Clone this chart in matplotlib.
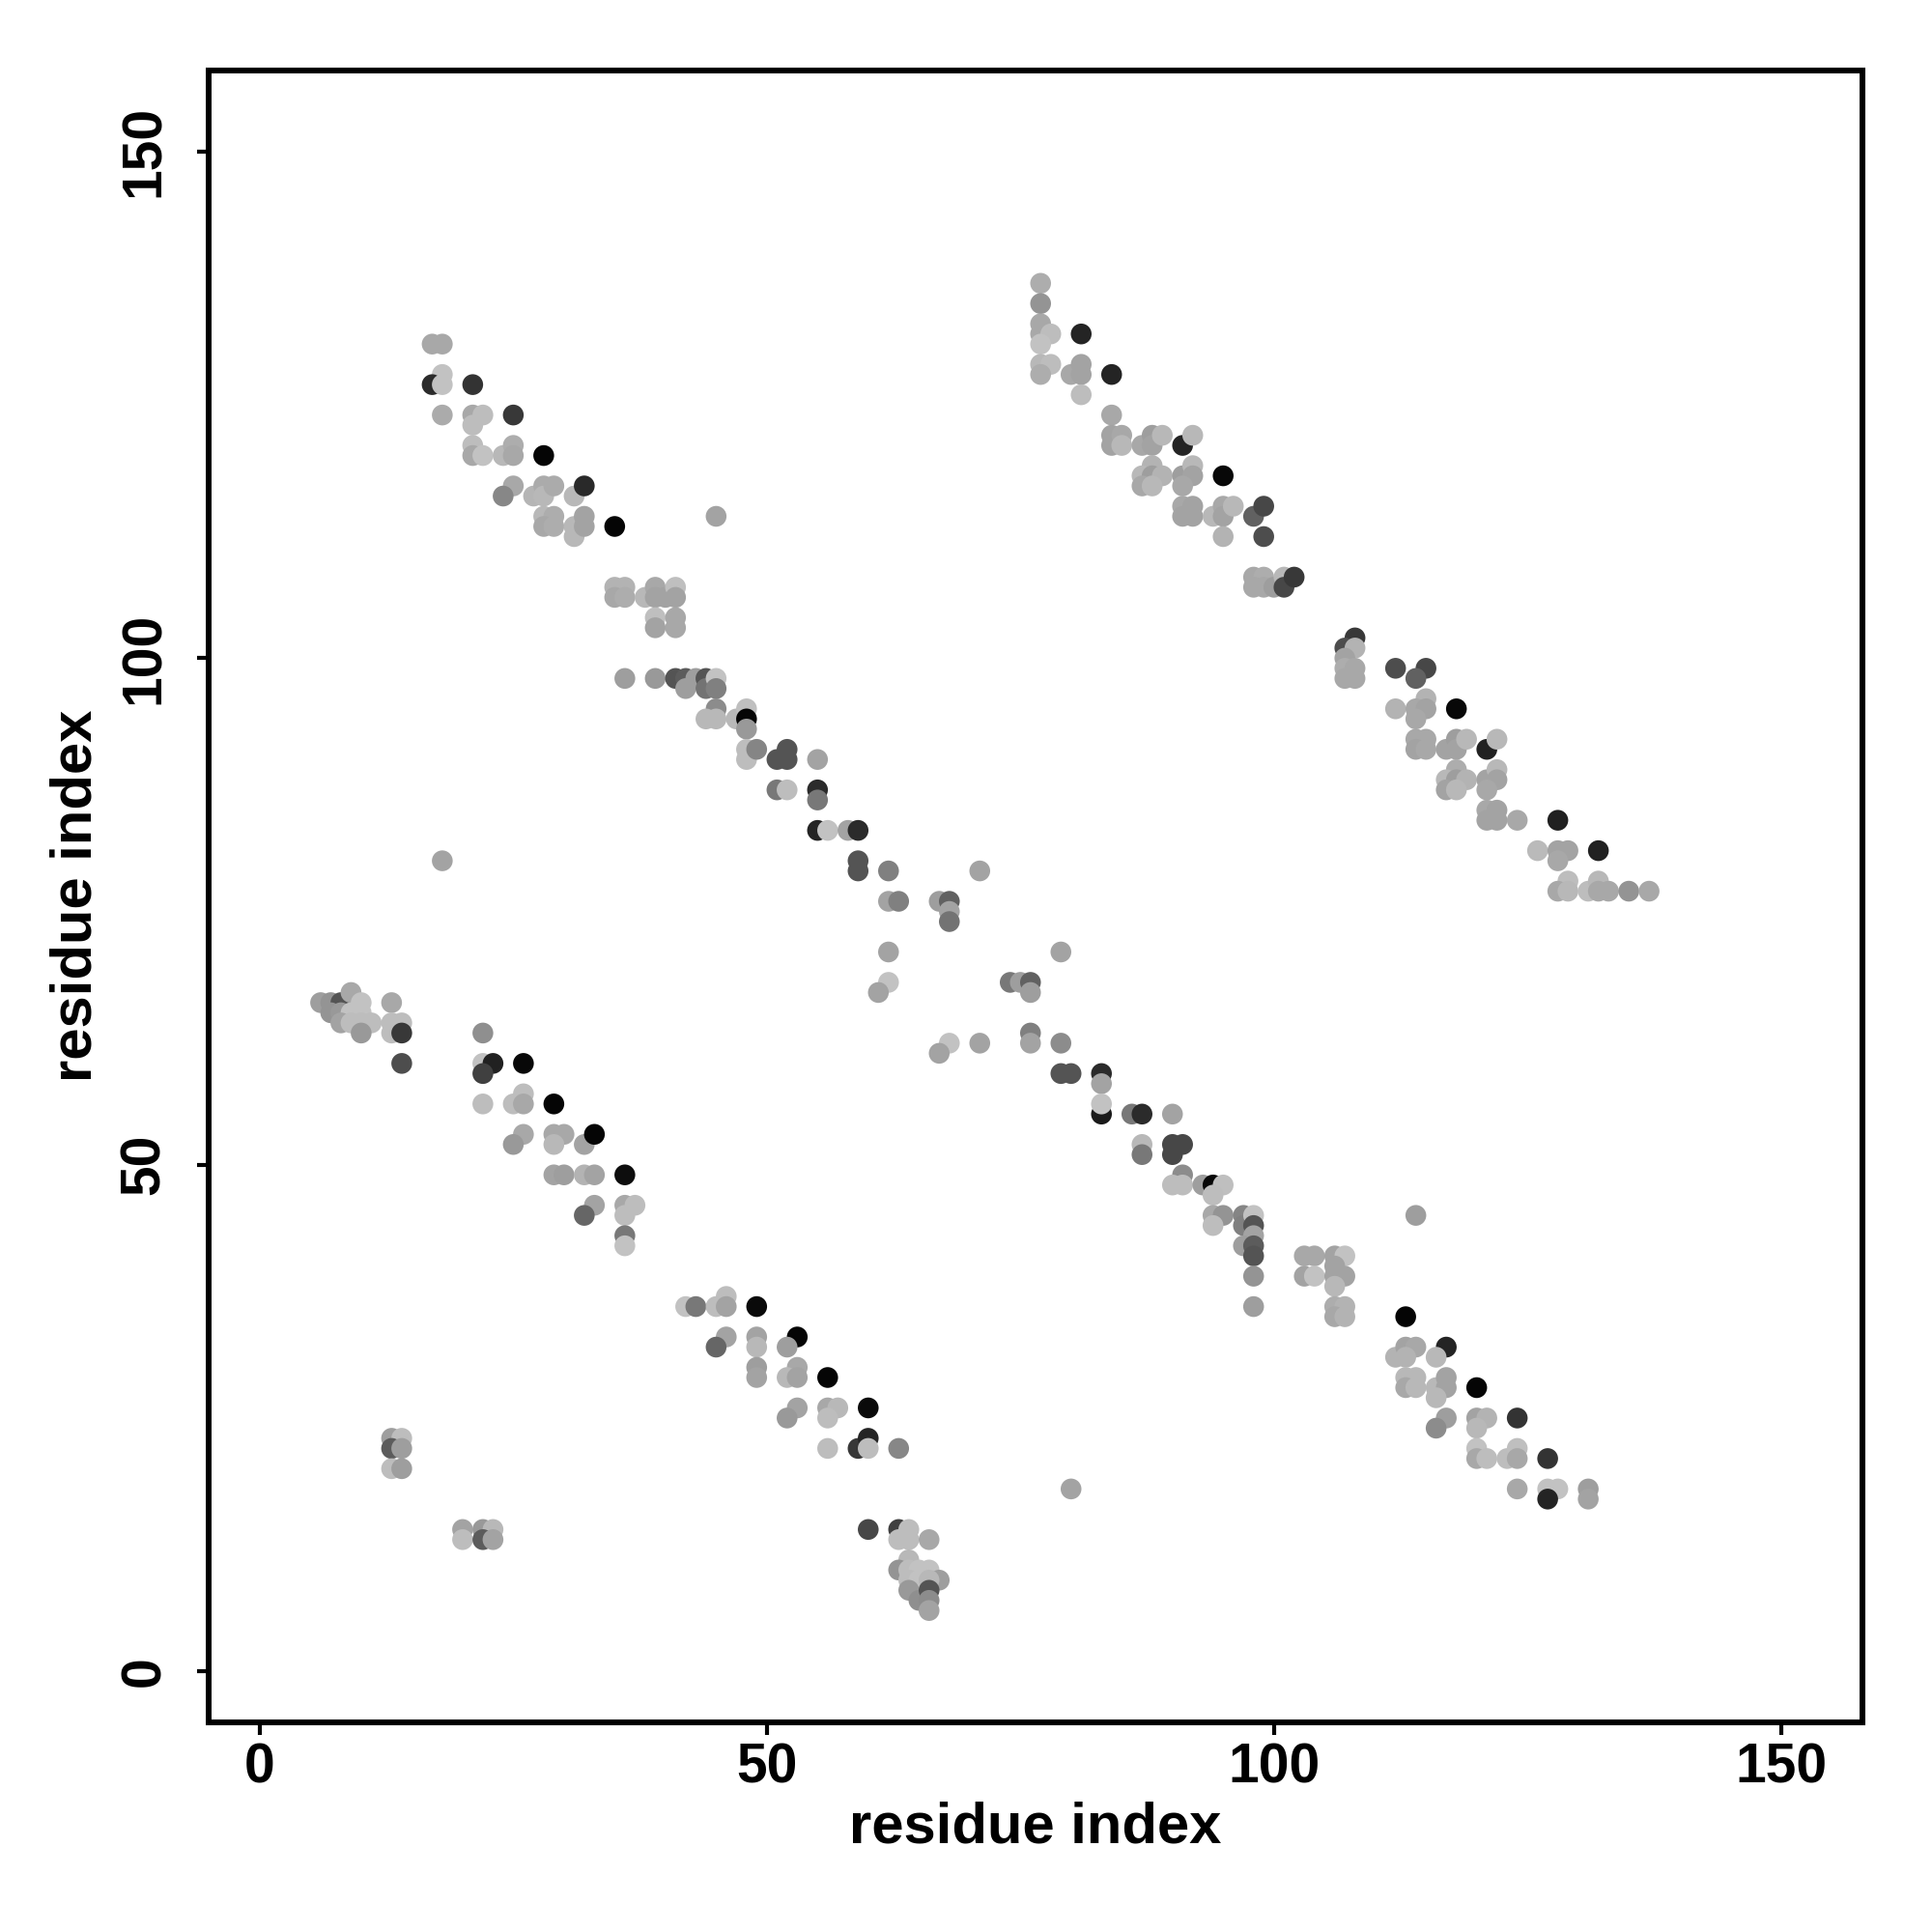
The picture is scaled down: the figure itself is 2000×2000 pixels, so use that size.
import matplotlib
matplotlib.use("Agg")
import matplotlib.pyplot as plt

# contact map points: residue i (x), residue j (y), grey shade (0=black, 1=white)
res_i = [
    17, 18, 18, 17, 18, 21, 18, 21, 22, 21, 25, 21, 21, 22, 24, 25, 25, 28, 25, 24,
    27, 28, 28, 29, 31, 32, 28, 29, 28, 29, 31, 31, 32, 32, 35, 45, 35, 36, 35, 36,
    38, 39, 39, 40, 41, 41, 39, 39, 41, 41, 36, 39, 41, 42, 42, 43, 44, 44, 45, 45,
    45, 44, 45, 47, 48, 48,
    77, 77, 77, 77, 78, 77, 81, 77, 78, 77, 80, 81, 81, 81, 84, 84, 84, 84, 85, 85,
    87, 88, 88, 89, 91, 92, 88, 87, 88, 89, 87, 88, 91, 92, 92, 91, 91, 92, 91, 92,
    95, 94, 95, 95, 96, 95, 98, 99, 99, 98, 99, 98, 99, 100, 101, 101, 102, 108, 107, 108,
    107, 107, 108, 107, 108, 112, 115, 114, 115, 112, 114, 115, 114, 118,
    114, 115, 114, 115, 117, 118, 118, 119, 121, 122, 118, 117, 118, 119, 117, 118, 121, 122, 122, 121,
    121, 122, 121, 122, 124, 128, 126, 128, 129, 128, 132, 129, 128, 129, 131, 132, 132, 133, 135, 137,
    48, 48, 48, 49, 18, 6, 7, 8, 9, 7, 8, 10, 9, 10, 8, 9, 10, 11, 10, 13,
    13, 14, 13, 14, 14, 22, 22, 23, 22, 26, 22, 25, 26, 26, 29, 26, 25, 29, 30, 29,
    32, 33, 29, 30, 32, 33, 36,
    33, 32, 36, 37, 36, 36, 36, 42, 43, 45, 46, 46, 49, 46, 45, 13, 14, 13, 14, 13,
    14, 20, 20, 22, 23, 22, 23,
    91, 90, 91, 93, 94, 49, 49, 53, 52, 49, 49, 53, 52, 53, 56, 53, 52, 56, 57, 56,
    60, 56, 59, 60, 60, 63, 80, 60, 63, 64, 63, 64, 66, 64, 63, 64, 65, 66, 67, 64,
    65, 66, 64, 65, 66, 66, 66,
    95, 94, 94, 95, 94, 97, 97, 98, 98, 98, 97, 98, 98, 98, 98, 114, 103, 104, 103, 104,
    106, 107, 106, 106, 107, 106, 106, 107, 106, 107, 113, 112, 113, 114, 113, 117, 116, 113, 114, 113,
    114, 116, 117, 117, 116, 120, 117, 116, 120, 121, 120, 124, 120, 120, 121, 123, 124, 124, 127, 124,
    127, 128, 127, 131, 131,
    51, 52, 52, 55, 51, 52, 55, 55, 55, 56, 58, 59, 59, 59, 62, 71, 62, 63, 67, 68,
    68, 68, 62, 79, 62, 61, 74, 75, 76, 76, 68, 67, 71, 76, 76, 79, 79, 80, 83, 83,
    83, 83, 86, 87, 90, 87, 87, 90, 91, 90,
]
res_j = [
    131, 131, 128, 127, 127, 127, 124, 124, 124, 123, 124, 121, 120, 120, 120, 121, 120, 120, 117, 116,
    116, 117, 116, 117, 116, 117, 114, 114, 113, 113, 113, 112, 114, 113, 113, 114, 107, 107, 106, 106,
    106, 107, 106, 106, 107, 106, 104, 103, 104, 103, 98, 98, 98, 98, 97, 98, 98, 97, 98, 97,
    95, 94, 94, 94, 95, 94,
    137, 135, 133, 132, 132, 131, 132, 129, 129, 128, 128, 129, 128, 126, 128, 124, 122, 121, 122, 121,
    121, 122, 121, 122, 121, 122, 119, 118, 118, 118, 117, 117, 118, 119, 118, 117, 115, 115, 114, 114,
    118, 114, 115, 114, 115, 112, 114, 115, 112, 108, 108, 107, 107, 107, 108, 107, 108, 102, 101, 101,
    100, 99, 99, 98, 98, 99, 99, 98, 96, 95, 95, 95, 94, 95,
    92, 92, 91, 91, 91, 92, 91, 92, 91, 92, 89, 88, 88, 88, 87, 87, 88, 89, 88, 87,
    85, 85, 84, 84, 84, 84, 81, 81, 81, 80, 81, 78, 77, 77, 77, 78, 77, 77, 77, 77,
    93, 91, 90, 91, 80, 66, 66, 66, 67, 65, 65, 66, 65, 65, 64, 64, 64, 64, 63, 66,
    64, 64, 63, 63, 60, 63, 60, 60, 59, 60, 56, 56, 57, 56, 56, 53, 52, 53, 53, 52,
    52, 53, 49, 49, 49, 49, 49,
    46, 45, 46, 46, 45, 43, 42, 36, 36, 36, 37, 36, 36, 33, 32, 23, 23, 22, 22, 20,
    20, 14, 13, 14, 14, 13, 13,
    49, 48, 48, 48, 48, 33, 32, 33, 32, 30, 29, 30, 29, 29, 29, 26, 25, 26, 26, 25,
    26, 22, 22, 23, 22, 22, 18, 14, 14, 14, 13, 13, 13, 11, 10, 10, 10, 10, 9, 9,
    9, 9, 8, 7, 8, 7, 6,
    48, 47, 45, 45, 44, 45, 44, 45, 44, 43, 42, 42, 41, 39, 36, 45, 41, 41, 39, 39,
    41, 41, 40, 39, 39, 38, 36, 36, 35, 35, 35, 31, 32, 32, 31, 32, 31, 29, 29, 28,
    28, 28, 29, 28, 27, 28, 25, 24, 25, 25, 24, 25, 22, 21, 21, 21, 22, 21, 21, 18,
    18, 18, 17, 18, 17,
    90, 91, 90, 90, 87, 87, 87, 86, 83, 83, 83, 83, 80, 79, 79, 79, 76, 76, 76, 76,
    75, 74, 71, 71, 68, 67, 68, 68, 68, 67, 62, 61, 62, 63, 62, 62, 59, 59, 59, 58,
    55, 56, 55, 55, 55, 52, 51, 52, 52, 51,
]
shade = [
    0.66, 0.66, 0.76, 0.17, 0.76, 0.20, 0.67, 0.66, 0.74, 0.74, 0.22, 0.74, 0.66, 0.76, 0.72, 0.68, 0.66, 0.02, 0.66, 0.53,
    0.71, 0.67, 0.72, 0.67, 0.72, 0.16, 0.72, 0.68, 0.66, 0.68, 0.72, 0.72, 0.64, 0.64, 0.02, 0.64, 0.70, 0.70, 0.66, 0.68,
    0.72, 0.66, 0.64, 0.64, 0.75, 0.64, 0.75, 0.64, 0.66, 0.66, 0.62, 0.60, 0.33, 0.36, 0.62, 0.62, 0.33, 0.45, 0.76, 0.50,
    0.55, 0.72, 0.72, 0.72, 0.75, 0.02,
    0.68, 0.58, 0.66, 0.66, 0.74, 0.76, 0.14, 0.72, 0.74, 0.68, 0.66, 0.64, 0.64, 0.74, 0.14, 0.66, 0.64, 0.64, 0.66, 0.72,
    0.66, 0.62, 0.64, 0.72, 0.14, 0.72, 0.70, 0.72, 0.62, 0.70, 0.66, 0.72, 0.62, 0.72, 0.64, 0.66, 0.66, 0.64, 0.64, 0.64,
    0.03, 0.72, 0.66, 0.64, 0.72, 0.70, 0.38, 0.28, 0.30, 0.66, 0.68, 0.66, 0.66, 0.62, 0.72, 0.28, 0.22, 0.22, 0.30, 0.70,
    0.64, 0.68, 0.66, 0.66, 0.66, 0.30, 0.28, 0.38, 0.70, 0.70, 0.66, 0.64, 0.66, 0.03,
    0.66, 0.66, 0.64, 0.66, 0.64, 0.62, 0.64, 0.72, 0.13, 0.72, 0.68, 0.72, 0.62, 0.70, 0.64, 0.72, 0.64, 0.72, 0.64, 0.66,
    0.66, 0.64, 0.64, 0.64, 0.66, 0.13, 0.73, 0.64, 0.64, 0.66, 0.13, 0.74, 0.66, 0.72, 0.74, 0.72, 0.66, 0.66, 0.58, 0.66,
    0.60, 0.74, 0.74, 0.52, 0.64, 0.62, 0.58, 0.33, 0.66, 0.58, 0.60, 0.76, 0.76, 0.76, 0.64, 0.74, 0.74, 0.74, 0.60, 0.66,
    0.74, 0.74, 0.74, 0.22, 0.30, 0.56, 0.76, 0.13, 0.25, 0.03, 0.74, 0.74, 0.74, 0.66, 0.02, 0.66, 0.60, 0.66, 0.66, 0.72,
    0.64, 0.02, 0.64, 0.62, 0.70, 0.64, 0.05,
    0.64, 0.40, 0.66, 0.74, 0.74, 0.47, 0.76, 0.76, 0.47, 0.74, 0.74, 0.64, 0.04, 0.64, 0.40, 0.62, 0.74, 0.36, 0.62, 0.74,
    0.62, 0.64, 0.74, 0.60, 0.72, 0.36, 0.64,
    0.55, 0.74, 0.74, 0.62, 0.03, 0.64, 0.72, 0.02, 0.62, 0.62, 0.64, 0.66, 0.72, 0.64, 0.02, 0.64, 0.60, 0.66, 0.72, 0.74,
    0.04, 0.74, 0.22, 0.14, 0.74, 0.53, 0.64, 0.28, 0.25, 0.74, 0.74, 0.74, 0.66, 0.72, 0.58, 0.74, 0.76, 0.76, 0.62, 0.74,
    0.76, 0.72, 0.60, 0.56, 0.33, 0.55, 0.64,
    0.75, 0.74, 0.66, 0.58, 0.74, 0.52, 0.50, 0.76, 0.33, 0.64, 0.62, 0.36, 0.33, 0.58, 0.62, 0.62, 0.66, 0.66, 0.64, 0.76,
    0.64, 0.76, 0.64, 0.64, 0.64, 0.72, 0.68, 0.70, 0.66, 0.70, 0.02, 0.70, 0.64, 0.66, 0.70, 0.14, 0.72, 0.72, 0.72, 0.66,
    0.72, 0.72, 0.64, 0.64, 0.72, 0.02, 0.62, 0.55, 0.64, 0.70, 0.72, 0.20, 0.76, 0.66, 0.74, 0.74, 0.75, 0.66, 0.20, 0.66,
    0.76, 0.76, 0.14, 0.62, 0.64,
    0.33, 0.33, 0.33, 0.64, 0.47, 0.74, 0.17, 0.47, 0.14, 0.76, 0.64, 0.17, 0.33, 0.33, 0.50, 0.64, 0.64, 0.50, 0.62, 0.38,
    0.64, 0.45, 0.64, 0.64, 0.76, 0.64, 0.47, 0.62, 0.38, 0.62, 0.76, 0.64, 0.64, 0.50, 0.64, 0.55, 0.33, 0.33, 0.17, 0.64,
    0.10, 0.76, 0.47, 0.17, 0.64, 0.72, 0.47, 0.28, 0.28, 0.28,
]

x_ticks = [0, 50, 100, 150]
y_ticks = [0, 50, 100, 150]
x_label = "residue index"
y_label = "residue index"

plt.rcParams['font.family'] = ['Liberation Sans', 'DejaVu Sans']
plt.rcParams['font.weight'] = 'bold'

fig = plt.figure(figsize=(20, 20), dpi=100)
ax = fig.add_axes([0.108, 0.1085, 0.856, 0.8552])

colors = [(s, s, s) for s in shade]
ax.scatter(res_i, res_j, s=240, c=colors, linewidths=0, zorder=3)

ax.set_xlim(-5.04, 158.04)
ax.set_ylim(-5.04, 158.04)
ax.set_xticks(x_ticks)
ax.set_yticks(y_ticks)
ax.set_xticklabels([str(t) for t in x_ticks], fontsize=41, fontweight='bold')
ax.set_yticklabels([str(t) for t in y_ticks], fontsize=41, fontweight='bold',
                   rotation=90, va='center')
ax.tick_params(axis='both', length=9, width=3, color='black')
ax.tick_params(axis='x', pad=6)
ax.tick_params(axis='y', pad=19)
for sp in ax.spines.values():
    sp.set_linewidth(4.3)
    sp.set_color('black')

ax.set_xlabel(x_label, fontsize=43, fontweight='bold', va='center')
ax.set_ylabel(y_label, fontsize=43, fontweight='bold', va='center')
ax.xaxis.set_label_coords(0.5, -0.0637)
ax.yaxis.set_label_coords(-0.080, 0.5)

fig.savefig("out.png", dpi=100, facecolor='white')
